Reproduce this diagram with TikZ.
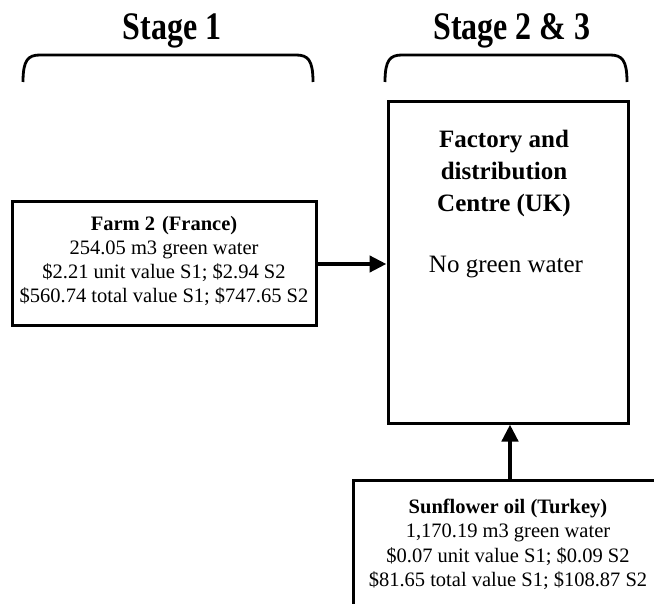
\documentclass[tikz,border=0pt]{standalone}
\usepackage{fontspec}
\setmainfont{Liberation Serif}
\usetikzlibrary{arrows.meta}
\begin{document}
\begin{tikzpicture}[x=1pt,y=-1pt,
  box/.style={draw,line width=3pt,rectangle,inner sep=0pt},
  body/.style={align=center,inner sep=0pt,font=\fontsize{20.5}{24.3}\selectfont},
  stagetitle/.style={inner sep=0pt,anchor=base,font=\fontsize{39}{41}\selectfont\bfseries,xscale=0.82},
  brace/.style={line width=2.8pt},
  flow/.style={line width=4.5pt,-{Triangle[length=17pt,width=16pt]}}]
\useasboundingbox (0,0) rectangle (654,604);
\clip (0,0) rectangle (654,604);

% stage headings and their brackets
\node[stagetitle] (s1) at (172,40) {Stage 1};
\node[stagetitle] (s23) at (512,40) {Stage 2 \& 3};
\draw[brace] (23,82) .. controls (23,60) and (28,55) .. (40,55) -- (296,55)
  .. controls (308,55) and (313,60) .. (313,82);
\draw[brace] (385,82) .. controls (385,60) and (390,55) .. (402,55) -- (610,55)
  .. controls (622,55) and (627,60) .. (627,82);

% factory
\node[box,minimum width=240pt,minimum height=321pt] (factory) at (508,262.5) {};
\node[align=center,inner sep=0pt,font=\fontsize{25}{32}\selectfont\bfseries] (factxt) at (504,173)
  {Factory and\\distribution\\Centre (UK)};
\node[inner sep=0pt,anchor=base,font=\fontsize{25}{28}\selectfont] (facnote) at (506,273) {No green water};

% farm in France
\node[box,minimum width=304pt,minimum height=124pt] (farm) at (164,264) {};
\node[body] (farmtxt) at (164,261)
  {\textbf{Farm 2\hspace{7pt}(France)}\\254.05 m3 green water\\\$2.21 unit value S1; \$2.94 S2\\\$560.74 total value S1; \$747.65 S2};

% sunflower oil from Turkey
\node[box,minimum width=330pt,minimum height=160pt] (sun) at (518,560) {};
\node[body] (suntxt) at (508,544.5)
  {\textbf{Sunflower oil (Turkey)}\\1,170.19 m3 green water\\\$0.07 unit value S1; \$0.09 S2\\\$81.65 total value S1; \$108.87 S2};

% flows into the factory
\draw[flow] (farm.east) -- (farm.east -| factory.west);
\coordinate (sunin) at (510,480);
\draw[flow] (sunin) -- (sunin |- factory.south);
\end{tikzpicture}
\end{document}
